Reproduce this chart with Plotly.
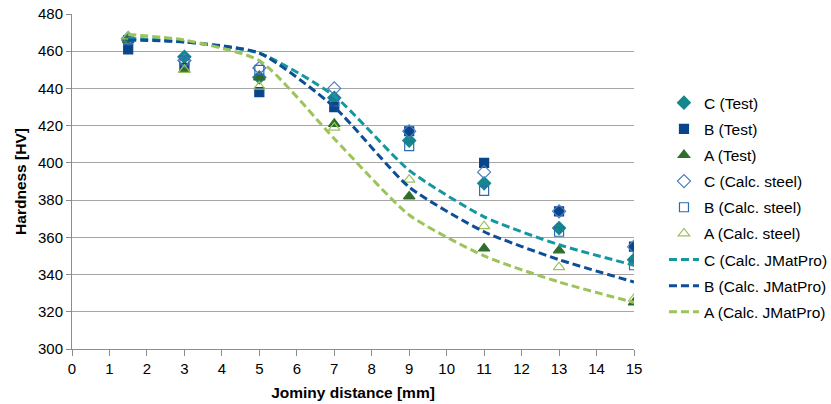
import plotly.graph_objects as go

x_pos = [1.5, 3, 5, 7, 9, 11, 13, 15]

c_test = [466, 457, 446, 435, 412, 389, 365, 348]
b_test = [461, 451, 438, 430, 417, 400, 374, 355]
a_test = [466, 450, 446, 421, 382, 354, 353, 325]

c_calc = [467, 455, 451, 440, 417, 395, 374, 355]
b_calc = [466, 455, 450, 433, 409, 385, 363, 345]
a_calc = [468, 450, 441, 419, 391, 366, 344, 327]

c_jmat = [467, 465, 459, 436, 396, 371, 356, 345]
b_jmat = [466, 465, 459, 430, 387, 363, 348, 336]
a_jmat = [469, 466, 455, 413, 372, 350, 336, 325]

names = ["C (Test)", "B (Test)", "A (Test)",
         "C (Calc. steel)", "B (Calc. steel)", "A (Calc. steel)",
         "C (Calc. JMatPro)", "B (Calc. JMatPro)", "A (Calc. JMatPro)"]

fig = go.Figure()

markers = [
    (c_test, "diamond", "#14868C", 10),
    (b_test, "square", "#0B4589", 9),
    (a_test, "triangle-up", "#2F6E2A", 10),
    (c_calc, "diamond-open", "#4A7EC4", 10),
    (b_calc, "square-open", "#2E69B0", 9),
    (a_calc, "triangle-up-open", "#9CC15C", 10),
]
for i, (vals, sym, col, sz) in enumerate(markers):
    fig.add_trace(go.Scatter(
        x=x_pos, y=vals, mode="markers", name=names[i], legendgroup=str(i),
        marker=dict(symbol=sym, color=col, size=sz, line=dict(color=col, width=1.2)),
    ))

lines = [(c_jmat, "#1597A0"), (b_jmat, "#0C4E98"), (a_jmat, "#9CC45A")]
for j, (vals, col) in enumerate(lines):
    fig.add_trace(go.Scatter(
        x=x_pos, y=vals, mode="lines", name=names[6 + j], legendgroup=str(6 + j),
        line=dict(color=col, width=3, dash="8px,4px", shape="spline", smoothing=0.6),
    ))

fig.update_layout(
    width=831, height=404,
    margin=dict(l=72, r=197, t=14, b=55, autoexpand=False),
    paper_bgcolor="white", plot_bgcolor="white",
    font=dict(family="Liberation Sans, Arial", size=15, color="#000000"),
    legend=dict(xref="container", yref="container", x=0.799, y=0.787,
                xanchor="left", yanchor="top", maxheight=320,
                tracegroupgap=3, font=dict(size=15.5)),
    showlegend=True,
)
fig.update_xaxes(
    range=[0, 15], tickmode="linear", tick0=0, dtick=1,
    showgrid=False, showline=True, linecolor="#8C8C8C", linewidth=1,
    ticks="outside", ticklen=6, tickcolor="#8C8C8C",
    tickfont=dict(size=15), automargin=False,
    title=dict(text="<b>Jominy distance [mm]</b>", font=dict(size=15.5), standoff=11),
    zeroline=False,
)
fig.update_yaxes(
    range=[300, 480], tickmode="linear", tick0=300, dtick=20,
    showgrid=True, gridcolor="#A6A6A6", gridwidth=1,
    showline=True, linecolor="#8C8C8C", linewidth=1,
    ticks="outside", ticklen=5, tickcolor="#8C8C8C",
    tickfont=dict(size=15), automargin=False,
    title=dict(text="<b>Hardness [HV]</b>", font=dict(size=15.5), standoff=7),
    zeroline=False,
)

fig.write_html("out.html")
